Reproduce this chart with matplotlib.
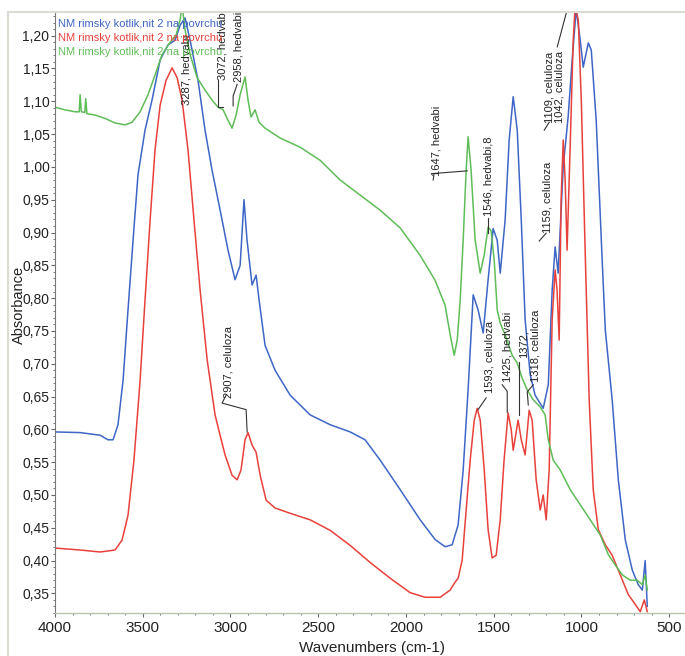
import matplotlib
matplotlib.use('Agg')
import matplotlib.pyplot as plt
from matplotlib.ticker import MultipleLocator, FuncFormatter
from matplotlib.lines import Line2D

plt.rcParams['font.family'] = ['Liberation Sans', 'DejaVu Sans']

# spectra: wavenumber (cm-1) and absorbance
blue_wn = [4000, 3857, 3743, 3698, 3669, 3641, 3612, 3584, 3555, 3527, 3487, 3447, 3401, 3356,
           3316, 3287, 3259, 3230, 3185, 3145, 3105, 3059, 3014, 2974, 2945, 2923, 2906, 2877,
           2854, 2837, 2803, 2746, 2660, 2546, 2432, 2318, 2233, 2147, 2033, 1919, 1834, 1777,
           1737, 1703, 1674, 1646, 1617, 1589, 1560, 1532, 1503, 1480, 1463, 1435, 1412, 1389,
           1366, 1343, 1321, 1292, 1264, 1218, 1189, 1167, 1150, 1133, 1104, 1076, 1053, 1030,
           1007, 990, 961, 944, 916, 882, 864, 825, 790, 750, 710, 676, 653, 637, 625]
blue_abs = [0.596, 0.595, 0.591, 0.584, 0.584, 0.607, 0.675, 0.782, 0.889, 0.988, 1.056, 1.102,
            1.163, 1.186, 1.193, 1.216, 1.227, 1.193, 1.132, 1.056, 0.995, 0.934, 0.873, 0.828,
            0.850, 0.950, 0.889, 0.820, 0.835, 0.797, 0.728, 0.690, 0.652, 0.622, 0.607, 0.596,
            0.584, 0.553, 0.508, 0.462, 0.432, 0.421, 0.424, 0.454, 0.538, 0.660, 0.805, 0.782,
            0.747, 0.828, 0.906, 0.888, 0.838, 0.919, 1.041, 1.107, 1.056, 0.919, 0.767, 0.683,
            0.652, 0.632, 0.668, 0.812, 0.878, 0.838, 1.000, 1.076, 1.163, 1.240, 1.193, 1.152,
            1.189, 1.178, 1.071, 0.858, 0.751, 0.645, 0.523, 0.431, 0.385, 0.363, 0.355, 0.400,
            0.330]

red_wn = [4000, 3857, 3743, 3658, 3618, 3584, 3550, 3515, 3487, 3458, 3430, 3401, 3367, 3333,
          3304, 3276, 3242, 3208, 3173, 3133, 3088, 3031, 2991, 2962, 2940, 2917, 2900, 2877,
          2854, 2831, 2797, 2746, 2660, 2546, 2432, 2318, 2204, 2090, 1976, 1891, 1805, 1748,
          1720, 1703, 1680, 1657, 1634, 1611, 1594, 1577, 1554, 1532, 1509, 1486, 1463, 1441,
          1418, 1400, 1389, 1361, 1343, 1321, 1298, 1281, 1258, 1235, 1218, 1201, 1184, 1167,
          1150, 1139, 1127, 1116, 1104, 1093, 1082, 1065, 1047, 1036, 1018, 1001, 979, 956,
          933, 904, 864, 825, 779, 733, 693, 665, 642, 625]
red_abs = [0.419, 0.416, 0.413, 0.416, 0.431, 0.469, 0.553, 0.675, 0.797, 0.919, 1.026, 1.094,
           1.132, 1.151, 1.136, 1.102, 1.026, 0.919, 0.812, 0.706, 0.622, 0.561, 0.530, 0.523,
           0.538, 0.584, 0.595, 0.576, 0.565, 0.530, 0.492, 0.480, 0.472, 0.462, 0.446, 0.423,
           0.397, 0.373, 0.351, 0.344, 0.344, 0.355, 0.367, 0.373, 0.400, 0.477, 0.553, 0.614,
           0.632, 0.614, 0.538, 0.447, 0.404, 0.408, 0.462, 0.553, 0.625, 0.599, 0.568, 0.614,
           0.584, 0.561, 0.629, 0.614, 0.523, 0.477, 0.500, 0.462, 0.538, 0.767, 0.843, 0.812,
           0.736, 0.950, 1.041, 0.980, 0.873, 1.026, 1.193, 1.245, 1.224, 1.102, 0.873, 0.645,
           0.508, 0.447, 0.424, 0.408, 0.378, 0.348, 0.333, 0.322, 0.340, 0.322]

green_wn = [4000, 3943, 3886, 3862, 3857, 3850, 3830, 3825, 3818, 3772, 3715, 3658, 3601, 3561,
            3515, 3470, 3430, 3390, 3344, 3310, 3287, 3276, 3259, 3230, 3190, 3145, 3105, 3071,
            3042, 3014, 2991, 2968, 2945, 2917, 2900, 2883, 2860, 2837, 2803, 2717, 2603, 2489,
            2375, 2261, 2147, 2033, 1919, 1834, 1777, 1748, 1725, 1708, 1691, 1674, 1657, 1646,
            1629, 1606, 1577, 1554, 1532, 1515, 1497, 1480, 1463, 1435, 1395, 1366, 1338, 1309,
            1275, 1235, 1207, 1189, 1161, 1121, 1064, 1007, 950, 893, 847, 807, 767, 722, 682,
            653, 637, 625]
green_abs = [1.091, 1.087, 1.084, 1.084, 1.110, 1.084, 1.083, 1.104, 1.081, 1.079, 1.074, 1.067,
             1.064, 1.068, 1.084, 1.110, 1.140, 1.171, 1.190, 1.201, 1.224, 1.247, 1.209, 1.171,
             1.136, 1.117, 1.102, 1.091, 1.087, 1.071, 1.059, 1.079, 1.110, 1.137, 1.102, 1.076,
             1.087, 1.068, 1.059, 1.044, 1.030, 1.010, 0.980, 0.957, 0.934, 0.907, 0.865, 0.827,
             0.789, 0.744, 0.713, 0.736, 0.797, 0.889, 0.995, 1.046, 0.995, 0.889, 0.838, 0.866,
             0.908, 0.903, 0.857, 0.782, 0.762, 0.744, 0.713, 0.701, 0.678, 0.660, 0.645, 0.634,
             0.622, 0.584, 0.553, 0.538, 0.508, 0.485, 0.462, 0.439, 0.409, 0.393, 0.378, 0.370,
             0.370, 0.363, 0.378, 0.355]

series_names = ['NM rimsky kotlik,nit 2 na povrchu'] * 3
series_colors = ['#3d66c6', '#e8413b', '#5fbd58']

# peak labels: text, text anchor (wn, abs), leader line points
peak_labels = ['3287, hedvabi', '3072, hedvabi', '2958, hedvabi', '2907, celuloza',
               '1647, hedvabi', '1546, hedvabi,8', '1593, celuloza', '1425, hedvabi',
               '1372,', '1318, celuloza', '1159, celuloza', '1109, celuloza\n1042, celuloza']
label_pos = [(3253, 1.094), (3048, 1.132), (2957, 1.129), (3014, 0.648),
             (1828, 0.986), (1531, 0.925), (1526, 0.655), (1423, 0.672),
             (1332, 0.709), (1264, 0.672), (1195, 0.899), (1155, 1.067)]
leaders = [[],
           [(3071, 1.132), (3071, 1.091), (3040, 1.091)],
           [(2962, 1.126), (2985, 1.108), (2985, 1.093)],
           [(3025, 0.652), (3048, 0.640), (2911, 0.630), (2905, 0.596)],
           [(1845, 0.980), (1840, 0.990), (1651, 0.994)],
           [(1531, 0.922), (1531, 0.899)],
           [(1543, 0.648), (1589, 0.630)],
           [(1452, 0.668), (1423, 0.658), (1423, 0.626)],
           [(1355, 0.703), (1355, 0.622)],
           [(1275, 0.668), (1309, 0.657), (1303, 0.637)],
           [(1201, 0.899), (1241, 0.887)],
           [(1184, 1.068), (1212, 1.056)]]
extra_leader = [(1138, 1.183), (1081, 1.240)]

fig = plt.figure(figsize=(6.85, 6.56), dpi=100)
ax = fig.add_axes([55 / 685, 43 / 656, 630 / 685, 600 / 656])

for wn, ab, c in zip([blue_wn, red_wn, green_wn], [blue_abs, red_abs, green_abs], series_colors):
    ax.plot(wn, ab, color=c, lw=1.1)

for txt, (px, py), pts in zip(peak_labels, label_pos, leaders):
    ax.text(px, py, txt, rotation=90, ha='center', va='bottom', fontsize=8,
            color='#222222', linespacing=1.0, clip_on=False)
    if pts:
        ax.plot([p[0] for p in pts], [p[1] for p in pts], color='#333333', lw=0.8, clip_on=False)
ax.plot([p[0] for p in extra_leader], [p[1] for p in extra_leader], color='#333333', lw=0.8)

ax.set_xlim(4000, 410)
ax.set_ylim(0.320, 1.2346)
ax.xaxis.set_major_locator(MultipleLocator(500))
ax.xaxis.set_minor_locator(MultipleLocator(100))
ax.yaxis.set_major_locator(MultipleLocator(0.05))
ax.yaxis.set_minor_locator(MultipleLocator(0.01))
ax.yaxis.set_major_formatter(FuncFormatter(lambda v, p: f'{v:.2f}'.replace('.', ',')))
ax.tick_params(axis='x', which='major', length=3, width=0.8, color='#666666',
               labelsize=11, pad=3, labelcolor='#222222')
ax.tick_params(axis='y', which='major', length=3, width=0.8, color='#666666',
               labelsize=10, pad=1, labelcolor='#222222')
ax.tick_params(which='minor', length=1.5, width=0.7, color='#777777')
for s in ['top', 'right']:
    ax.spines[s].set_visible(False)
ax.spines['left'].set_color('#777777')
ax.spines['left'].set_linewidth(0.8)
ax.spines['bottom'].set_color('#b8c4b0')
ax.spines['bottom'].set_linewidth(1.0)

for i, (name, c) in enumerate(zip(series_names, series_colors)):
    fig.text(58 / 685, 1 - (24 + 14 * i) / 656, name, color=c, fontsize=8, va='center', ha='left')

fig.text(19 / 685, 1 - 305 / 656, 'Absorbance', rotation=90, ha='center', va='center',
         fontsize=10.5, color='#222222')
fig.text(372 / 685, 1 - 648 / 656, 'Wavenumbers (cm-1)', ha='center', va='center',
         fontsize=11, color='#222222')

# light outer frame of the screenshot
fig.add_artist(Line2D([8 / 685, 8 / 685], [0, 1 - 12 / 656], transform=fig.transFigure,
                      color='#dcdcd2', lw=1.5))
fig.add_artist(Line2D([8 / 685, 1], [1 - 12 / 656, 1 - 12 / 656], transform=fig.transFigure,
                      color='#dcdcd2', lw=1.5))

fig.savefig('out.png', dpi=100)
